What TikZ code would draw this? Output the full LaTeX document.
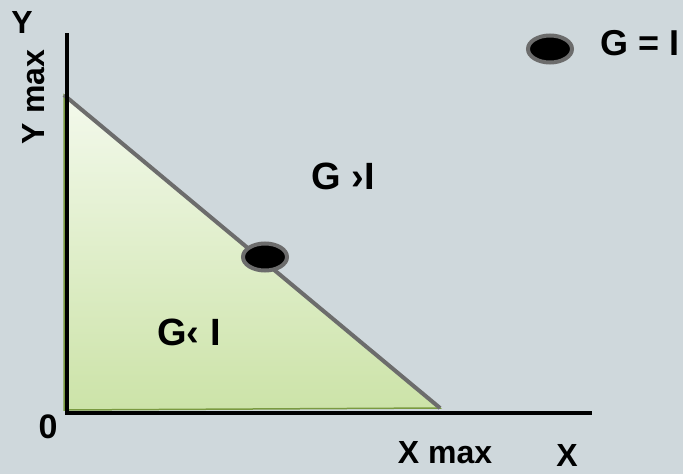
\documentclass[tikz,border=0pt]{standalone}
\usepackage{fontspec}
\setmainfont{Liberation Sans}
\usetikzlibrary{positioning,shapes.geometric}
\definecolor{BGc}{RGB}{207,216,220}
\definecolor{EdgeGray}{RGB}{108,108,108}
\definecolor{LeafTop}{RGB}{243,249,236}
\definecolor{LeafBot}{RGB}{204,227,168}
\definecolor{LeafLine}{RGB}{122,154,64}
\tikzset{
  axisline/.style={line width=4.5pt,black},
  lbl/.style={font=\bfseries\fontsize{32}{34}\selectfont,inner sep=0pt},
  big/.style={lbl,font=\bfseries\fontsize{38}{40}\selectfont},
  pt/.style={ellipse,draw=EdgeGray,fill=black,line width=4pt,
             minimum width=44pt,minimum height=27pt,inner sep=0pt},
  budget/.style={line width=4pt,EdgeGray},
}

\begin{document}
\begin{tikzpicture}[x=1pt,y=-1pt]
  \fill[BGc] (0,0) rectangle (683,474);
  \useasboundingbox (0,0) rectangle (683,474);

  % corners of the region
  \coordinate (o) at (67,413);
  \coordinate (ytop) at (67,33);
  \coordinate (xend) at (592,413);
  \coordinate (ymax) at (64,95);
  \coordinate (corner) at (64,410);
  \coordinate (xmax) at (440,408);

  \shade[top color=LeafTop,bottom color=LeafBot,draw=LeafLine,line width=1.5pt]
    (ymax) -- (corner) -- (xmax) -- cycle;
  \draw[budget] (ymax) -- (xmax);
  \draw[axisline] (ytop) -- (o) -- (xend);

  \node[pt] (eq) at (265,257) {};
  \node[pt] (key) at (550,49) {};
  \node[lbl,font=\bfseries\fontsize{36}{38}\selectfont,right=26pt of key,yshift=6pt] (keytxt) {G = I};

  \node[lbl] (ylab) at (22,22) {Y};
  \node[lbl,rotate=90] (ymaxlab) at (34,97) {Y max};
  \node[big] (gt) at (343,176) {G ›I};
  \node[big] (lt) at (189,332) {G‹ I};
  \node[lbl,font=\bfseries\fontsize{34}{36}\selectfont] (zero) at (48,427) {0};
  \node[lbl] (xmaxlab) at (445,453) {X max};
  \node[lbl] (xlab) at (567,455) {X};
\end{tikzpicture}
\end{document}
